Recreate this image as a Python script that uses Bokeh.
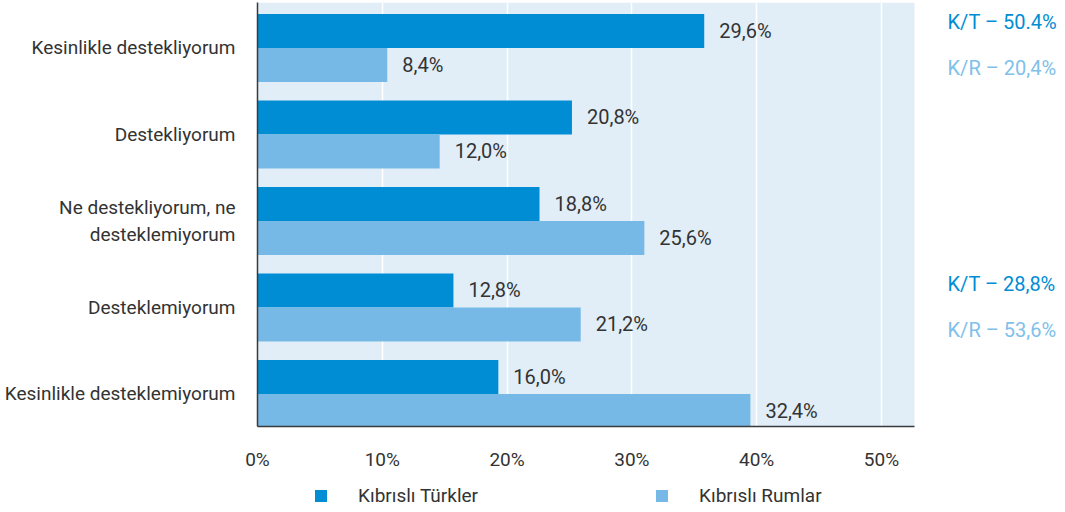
from bokeh.plotting import figure
from bokeh.layouts import column
from bokeh.models import Range1d, FixedTicker, Legend, LegendItem, ColumnDataSource
from bokeh.core.properties import value
from bokeh.embed import file_html
from bokeh.resources import INLINE

# ---- data ----
categories = [
    "Kesinlikle destekliyorum",
    "Destekliyorum",
    "Ne destekliyorum, ne\ndesteklemiyorum",
    "Desteklemiyorum",
    "Kesinlikle desteklemiyorum",
]
series_names = ["Kıbrıslı Türkler", "Kıbrıslı Rumlar"]
turk_bar = [35.8, 25.2, 22.6, 15.7, 19.3]
rum_bar = [10.4, 14.6, 31.0, 25.9, 39.5]
turk_labels = ["29,6%", "20,8%", "18,8%", "12,8%", "16,0%"]
rum_labels = ["8,4%", "12,0%", "25,6%", "21,2%", "32,4%"]
x_ticks = [0, 10, 20, 30, 40, 50]
x_tick_labels = ["0%", "10%", "20%", "30%", "40%", "50%"]
summary_texts = ["K/T – 50.4%", "K/R – 20,4%", "K/T – 28,8%", "K/R – 53,6%"]

# ---- style ----
DARK = "#008DD4"
LIGHT = "#77B9E6"
SUM_LIGHT = "#80C0EA"
BG = "#E1EEF8"
TXT = "#333333"
FONT = "Roboto"
FS = "19px"
FS_VAL = "20px"

PANEL_END = 52.65        # right edge of the shaded plot panel (data units)
Y_TOP, Y_BOT = -0.525, 4.377
bar_h = 0.393
idx = list(range(len(categories)))

p = figure(width=1065, height=474, output_backend="svg", toolbar_location=None,
           x_range=Range1d(0, 64.75), y_range=Range1d(Y_BOT, Y_TOP),
           min_border_left=257, min_border_right=0, min_border_top=2,
           min_border_bottom=48)
p.outline_line_color = None
p.background_fill_color = "white"
p.border_fill_color = "white"

# shaded panel behind grid
p.quad(left=0, right=PANEL_END, top=Y_TOP, bottom=Y_BOT, fill_color=BG,
       line_color=None, level="image")

src_t = ColumnDataSource(dict(y=[i - bar_h / 2 for i in idx], v=turk_bar, lab=turk_labels))
src_r = ColumnDataSource(dict(y=[i + bar_h / 2 for i in idx], v=rum_bar, lab=rum_labels))

p.hbar(y="y", right="v", left=0, height=bar_h, source=src_t, fill_color=DARK, line_color=None)
p.hbar(y="y", right="v", left=0, height=bar_h, source=src_r, fill_color=LIGHT, line_color=None)

for src in (src_t, src_r):
    p.text(x="v", y="y", text="lab", source=src, x_offset=15, text_align="left",
           text_baseline="middle", text_font=value(FONT), text_font_size=FS_VAL, text_color=TXT)

# right-hand summary annotations (inside the white part of the frame)
summary_colors = [DARK, SUM_LIGHT, DARK, SUM_LIGHT]
summary_y = [-0.294, 0.238, 2.724, 3.267]
src_s = ColumnDataSource(dict(x=[55.3] * 4, y=summary_y, t=summary_texts, c=summary_colors))
p.text(x="x", y="y", text="t", text_color="c", source=src_s, text_align="left",
       text_baseline="middle", text_font=value(FONT), text_font_size=FS_VAL)

# axes
p.xaxis.ticker = FixedTicker(ticks=x_ticks)
p.xaxis.major_label_overrides = {t: l for t, l in zip(x_ticks, x_tick_labels)}
p.xaxis.bounds = (0, PANEL_END)
p.yaxis.ticker = FixedTicker(ticks=idx)
p.yaxis.major_label_overrides = {i: c for i, c in zip(idx, categories)}
p.yaxis.major_label_text_line_height = 1.2
for ax in (p.xaxis[0], p.yaxis[0]):
    ax.axis_line_color = "#3a3a3a"
    ax.axis_line_width = 1.5
    ax.major_tick_line_color = None
    ax.minor_tick_line_color = None
    ax.major_label_text_font = FONT
    ax.major_label_text_font_size = FS
    ax.major_label_text_color = TXT
p.xaxis.major_label_standoff = 15
p.yaxis.major_label_standoff = 16

p.xgrid.ticker = FixedTicker(ticks=x_ticks)
p.xgrid.grid_line_color = "white"
p.xgrid.grid_line_width = 1.5
p.ygrid.visible = False

# ---- legend strip ----
lg = figure(width=1065, height=38, output_backend="svg", toolbar_location=None,
            x_range=Range1d(0, 1), y_range=Range1d(0, 1),
            x_axis_type=None, y_axis_type=None,
            min_border_left=0, min_border_right=0, min_border_top=0, min_border_bottom=0)
lg.outline_line_color = None
lg.xgrid.visible = False
lg.ygrid.visible = False
lg.background_fill_color = "white"
lt = lg.hbar(y=[-100], left=[-200], right=[-100], height=1, fill_color=DARK, line_color=None)
lr = lg.hbar(y=[-100], left=[-200], right=[-100], height=1, fill_color=LIGHT, line_color=None)
legend = Legend(items=[LegendItem(label=series_names[0], renderers=[lt]),
                       LegendItem(label=series_names[1], renderers=[lr])],
                orientation="horizontal", location=(56, 5),
                glyph_width=15, glyph_height=15, label_standoff=30,
                spacing=176, padding=0, margin=0, border_line_color=None,
                background_fill_alpha=0, label_text_font=FONT, label_text_font_size=FS,
                label_text_color=TXT)
lg.add_layout(legend, "center")

open("out.html", "w").write(file_html(column(p, lg, spacing=0), INLINE))
